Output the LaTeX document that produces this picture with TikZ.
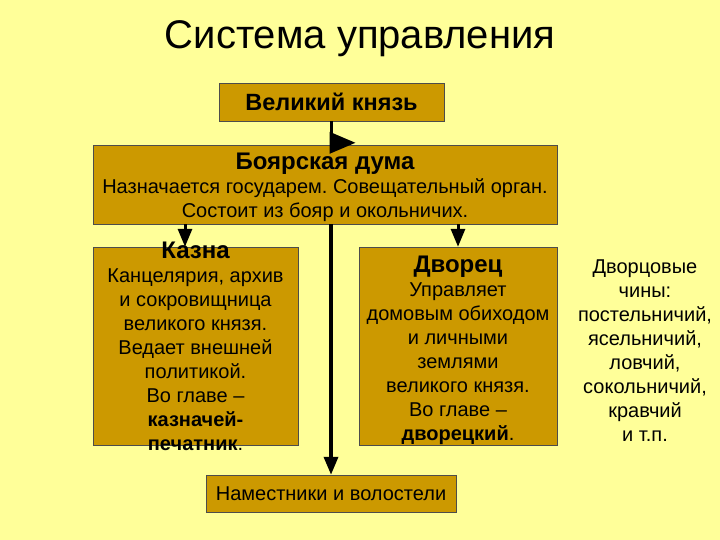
\documentclass[tikz,border=0pt]{standalone}
\usepackage{fontspec}
\setmainfont{Liberation Sans}
\usetikzlibrary{arrows.meta,positioning,calc}

\definecolor{bgyellow}{RGB}{255,255,153}
\definecolor{gold}{RGB}{204,153,0}

\begin{document}
\frenchspacing
\begin{tikzpicture}[x=1pt,y=-1pt,
box/.style={rectangle, draw=black!70, fill=gold, inner sep=0pt},
txt/.style={draw=none, fill=none, align=center, inner sep=0pt,
  font=\fontsize{20}{24}\selectfont},
link/.style={line width=3.5pt, -{Triangle[width=14pt,length=18pt]}}]

%% background
\fill[bgyellow] (0,0) rectangle (720,540);
\useasboundingbox (0,0) rectangle (720,540);

%% title
\node[txt, font=\fontsize{40}{44}\selectfont] (title) at (360,39) {Система управления};

%% boxes
\node[box, minimum width=225pt, minimum height=38pt, font=\fontsize{23.5}{24}\selectfont\bfseries]
  (knyaz) at (331.5,102) {Великий князь};
\node[box, minimum width=464pt, minimum height=79pt] (duma) at (325,184.5) {};
\node[txt] at ([yshift=-3pt]duma.center) {{\bfseries\fontsize{24}{24}\selectfont Боярская дума}\\
  Назначается государем. Совещательный орган.\\
  Состоит из бояр и окольничих.};

\node[box, minimum width=205pt, minimum height=198pt] (kazna) at (195.5,346) {};
\node[txt] at (kazna.center) {{\bfseries\fontsize{24}{24}\selectfont Казна}\\
  Канцелярия, архив\\ и сокровищница\\ великого князя.\\ Ведает внешней\\
  политикой.\\ Во главе --\\ \textbf{казначей-}\\ \textbf{печатник}.};

\node[box, minimum width=198pt, minimum height=198pt] (dvorets) at (458,346) {};
\node[txt] at ([yshift=-4pt]dvorets.center) {{\bfseries\fontsize{24}{24}\selectfont Дворец}\\
  Управляет\\ домовым обиходом\\ и личными\\ землями\\ великого князя.\\
  Во главе --\\ \textbf{дворецкий}.};

\node[box, minimum width=250pt, minimum height=37pt, font=\fontsize{20}{24}\selectfont]
  (namest) at (331,493.5) {Наместники и волостели};

%% palace ranks
\node[txt] (chiny) at (645,351) {Дворцовые\\ чины:\\ постельничий,\\ ясельничий,\\
  ловчий,\\ сокольничий,\\ кравчий\\ и т.п.};

%% connectors
\draw[link, -{Triangle[width=21pt,length=26pt]}, shorten >=-24pt]
  (knyaz.south) -- ($(knyaz.south |- duma.north)+(0,-2)$) -- ++(0.1,0);
\draw[link, line width=3pt] ([xshift=-10.5pt]kazna.north |- duma.south) -- ([xshift=-10.5pt]kazna.north);
\draw[link, line width=3pt] (dvorets.north |- duma.south) -- (dvorets.north);
\draw[link] (namest.north |- duma.south) -- (namest.north);

\end{tikzpicture}
\end{document}
